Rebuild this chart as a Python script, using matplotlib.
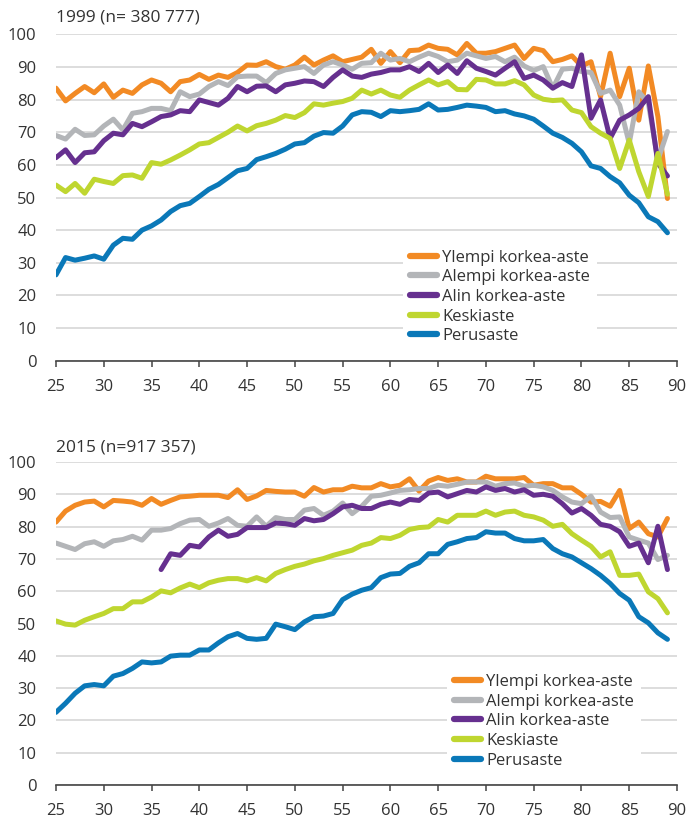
import numpy as np
import matplotlib
matplotlib.use("Agg")
import matplotlib.pyplot as plt

ages = list(range(25, 90))
series_names = ["Ylempi korkea-aste", "Alempi korkea-aste", "Alin korkea-aste", "Keskiaste", "Perusaste"]
colors = ["#F28A24", "#B3B5B8", "#66308F", "#BFD630", "#0A78B8"]
x_ticks = list(range(25, 95, 5))
y_ticks = list(range(0, 110, 10))
title_1999 = "1999 (n= 380 777)"
title_2015 = "2015 (n=917 357)"

ylempi_1999 = [83.5, 79.6, 81.9, 84, 82.1, 84.8, 80.7, 82.9, 81.9, 84.5, 86, 85, 82.4, 85.5, 86, 87.7, 86.2, 87.5, 86.8, 88.3,
               90.6, 90.5, 91.6, 90.1, 89.3, 90.6, 93, 90.6, 92.1, 93.4, 91.6, 92.3, 93, 95.4, 91.1, 94.7, 91.3, 95, 95.2, 96.7,
               95.7, 95.4, 93.7, 97.2, 94.2, 94.2, 94.7, 95.7, 96.7, 92.6, 95.7, 95, 91.6, 92.3, 93.4, 90.3, 91.6, 80.9, 94.2, 80.9,
               89.6, 73.7, 90.3, 74.8, 49.7]
alempi_1999 = [69, 67.9, 70.9, 69, 69.2, 71.9, 74, 70.7, 75.8, 76.3, 77.3, 77.3, 76.6, 82.4, 80.9, 81.7, 84, 85.5, 84.3, 87,
               87.2, 87.2, 85.2, 88, 89.1, 89.6, 90.1, 88, 90.6, 91.6, 90.6, 89.3, 91.1, 91.3, 94.2, 92.1, 92.6, 91.6, 93, 94.2,
               93.2, 91.6, 92.1, 94.2, 93.4, 92.6, 93.2, 91.6, 93, 90.3, 88.9, 90.1, 83.5, 89.3, 89.6, 88.6, 88.3, 81.9, 82.9, 78.3,
               66.6, 82.4, 78.9, 61.5, 70.2]
alin_1999 = [62.2, 64.6, 60.7, 63.7, 64, 67.4, 69.7, 69.2, 72.7, 71.7, 73.2, 74.8, 75.3, 76.6, 76.3, 79.9, 79.1, 78.3, 80.4, 84,
             82.4, 84.1, 84.2, 82.4, 84.5, 85, 85.7, 85.5, 84, 86.8, 89.1, 87.2, 86.8, 87.8, 88.3, 89.1, 89.1, 90.1, 88.6, 91.1,
             88.3, 90.6, 88, 91.9, 89.6, 88.6, 87.5, 89.6, 91.6, 86.5, 87.5, 86, 83.5, 85.2, 84, 93.7, 74.3, 79.9, 68.1, 73.7,
             75.3, 77.3, 80.9, 60.5, 56.6]
keski_1999 = [53.8, 51.8, 54.3, 51.3, 55.6, 54.9, 54.3, 56.7, 56.9, 55.9, 60.7, 60.2, 61.5, 63, 64.6, 66.4, 66.8, 68.4, 70, 71.9,
              70.4, 72, 72.7, 73.7, 75.1, 74.5, 76, 78.7, 78.3, 78.9, 79.4, 80.4, 82.9, 81.7, 82.9, 81.4, 80.7, 82.9, 84.5, 86,
              84.5, 85.5, 83.1, 83, 86.2, 86, 84.8, 84.8, 85.8, 84.5, 81.4, 80.1, 79.7, 79.9, 76.8, 76, 71.7, 69.7, 68.1, 58.9,
              67.6, 57.9, 50.3, 63.5, 51]
perus_1999 = [26.3, 31.6, 30.8, 31.4, 32.1, 31.1, 35.4, 37.5, 37.2, 40, 41.3, 43.1, 45.7, 47.5, 48.2, 50.3, 52.5, 54, 56.1, 58.2,
              58.9, 61.6, 62.5, 63.5, 64.8, 66.4, 66.8, 68.8, 69.9, 69.7, 71.9, 75.3, 76.3, 76.1, 74.8, 76.6, 76.3, 76.6, 77, 78.7,
              76.8, 77, 77.6, 78.3, 78, 77.6, 76.3, 76.6, 75.6, 75, 74, 71.9, 69.7, 68.4, 66.6, 64, 59.7, 58.9, 56.4, 54.5,
              50.7, 48.4, 44.1, 42.6, 39.2]

ylempi_2015 = [81.4, 84.8, 86.6, 87.6, 87.9, 86.1, 88.1, 87.9, 87.6, 86.6, 88.7, 86.9, 88.1, 89.2, 89.4, 89.7, 89.7, 89.7, 89, 91.4,
               88.4, 89.5, 91.2, 90.9, 90.7, 90.7, 89.4, 92.1, 90.7, 91.4, 91.4, 92.5, 92, 92, 93.3, 92.3, 92.8, 94.8, 91, 94.1,
               95.2, 94.3, 94.8, 93.8, 93.8, 95.6, 94.8, 94.8, 94.8, 95.2, 92.8, 93.3, 93.3, 92, 92, 90, 87.6, 87.8, 86.3, 91.2,
               79.4, 81.4, 77.8, 76.8, 82.5]
alempi_2015 = [74.9, 73.9, 72.9, 74.7, 75.3, 73.9, 75.6, 76, 77, 75.8, 78.9, 78.9, 79.4, 80.9, 82, 82.2, 80.1, 81.1, 82.5, 80.4,
               80.1, 83, 80.1, 82.8, 82.2, 82.2, 85.1, 85.6, 83.5, 84.8, 87.3, 84, 86.3, 89.4, 89.7, 90.4, 91.2, 91.4, 91.8, 91.8,
               92.8, 92.5, 93.1, 93.8, 93.8, 93.8, 92.5, 93.3, 93.5, 92.5, 92.8, 92.3, 91.2, 89.2, 87.6, 87.1, 89.4, 84.5, 82.8, 83,
               76.8, 75.8, 74.9, 69.8, 71.1]
alin_2015 = [None] * 11 + [66.7, 71.6, 71.1, 74.2, 73.7, 76.8, 78.9, 77, 77.6,
             79.7, 79.7, 79.7, 81.1, 80.9, 80.4, 82.5, 81.8, 82.2, 84, 86.1, 86.6, 85.6, 85.6, 86.9, 87.6, 86.9, 88.4, 88.1, 90.4,
             90.7, 89.2, 90.2, 91.2, 90.7, 92.3, 91.2, 91.8, 90.7, 91.4, 89.7, 90, 89.4, 87.1, 84.2, 85.6, 83.5, 80.7, 80.1, 78.4,
             73.9, 74.9, 68.8, 80.1, 66.7]
keski_2015 = [50.8, 49.8, 49.5, 51, 52.1, 53.1, 54.6, 54.6, 56.7, 56.7, 58.2, 60.1, 59.5, 61, 62.2, 61.1, 62.6, 63.4, 63.9, 63.9,
              63.2, 64.2, 63.2, 65.5, 66.7, 67.7, 68.4, 69.4, 70.1, 71.1, 71.9, 72.7, 74.2, 74.9, 76.6, 76.3, 77.3, 79.1, 79.7, 79.9,
              82.2, 81.4, 83.5, 83.5, 83.5, 84.8, 83.5, 84.5, 84.8, 83.5, 83, 82, 80.1, 80.7, 77.8, 75.8, 73.9, 70.6, 72.2, 64.9,
              64.9, 65.3, 59.8, 57.7, 53.3]
perus_2015 = [22.5, 25.3, 28.4, 30.7, 31.1, 30.7, 33.7, 34.5, 36.1, 38.1, 37.8, 38.1, 39.9, 40.2, 40.2, 41.8, 41.8, 44, 45.9, 46.9,
              45.4, 45.1, 45.4, 49.8, 49, 48.1, 50.5, 52.1, 52.3, 53.1, 57.4, 59.1, 60.3, 61.1, 64.2, 65.3, 65.5, 67.7, 68.8, 71.6,
              71.6, 74.5, 75.3, 76.3, 76.6, 78.4, 78, 78, 76.3, 75.6, 75.6, 76, 73.2, 71.6, 70.6, 68.8, 67, 64.9, 62.4, 59.3,
              57.2, 52.1, 50.2, 47.1, 45.1]

data_1999 = [ylempi_1999, alempi_1999, alin_1999, keski_1999, perus_1999]
data_2015 = [ylempi_2015, alempi_2015, alin_2015, keski_2015, perus_2015]

plt.rcParams['font.family'] = ['Open Sans', 'DejaVu Sans']
text_color = "#333333"

W, H = 686, 825
fig = plt.figure(figsize=(W / 100, H / 100), dpi=100)

def px_axes(left, right, top_y, bottom_y):
    return [left / W, (H - bottom_y) / H, (right - left) / W, (bottom_y - top_y) / H]

ax1 = fig.add_axes(px_axes(56, 677, 34.3, 360.7))
ax2 = fig.add_axes(px_axes(56, 677, 462, 785))

def style(ax, data, title, title_y, legend_x):
    for vals, name, c in zip(data, series_names, colors):
        y = np.array([np.nan if v is None else v for v in vals], dtype=float)
        ax.plot(ages, y, color=c, lw=3.6, label=name, solid_capstyle='round', solid_joinstyle='round')
    ax.set_xlim(25, 90)
    ax.set_ylim(0, 100)
    ax.set_xticks(x_ticks)
    ax.set_yticks(y_ticks)
    ax.grid(axis='y', color='#D3D3D3', lw=1.1)
    ax.set_axisbelow(True)
    for s in ['top', 'right', 'left']:
        ax.spines[s].set_visible(False)
    ax.spines['bottom'].set_color('#444444')
    ax.spines['bottom'].set_linewidth(1.2)
    ax.tick_params(axis='y', length=0, pad=14, labelsize=12, labelcolor=text_color)
    ax.tick_params(axis='x', length=4, width=1.1, color='#444444', pad=9, labelsize=12, labelcolor=text_color)
    fig.text(56 / W, (H - title_y) / H, title, ha='left', va='center', fontsize=12.5, color=text_color)
    leg = ax.legend(loc='lower left', bbox_to_anchor=(legend_x, 0.03), frameon=True, fontsize=12,
                    handlelength=1.65, handletextpad=0.28, labelspacing=0.22, borderpad=0.4,
                    borderaxespad=0)
    leg.get_frame().set_facecolor('white')
    leg.get_frame().set_edgecolor('none')
    leg.get_frame().set_alpha(1)
    for t in leg.get_texts():
        t.set_color(text_color)
    for l in leg.get_lines():
        l.set_linewidth(4.5)
        l.set_solid_capstyle('round')

style(ax1, data_1999, title_1999, 17, 0.559)
style(ax2, data_2015, title_2015, 448, 0.630)

fig.savefig("out.png", dpi=100)
